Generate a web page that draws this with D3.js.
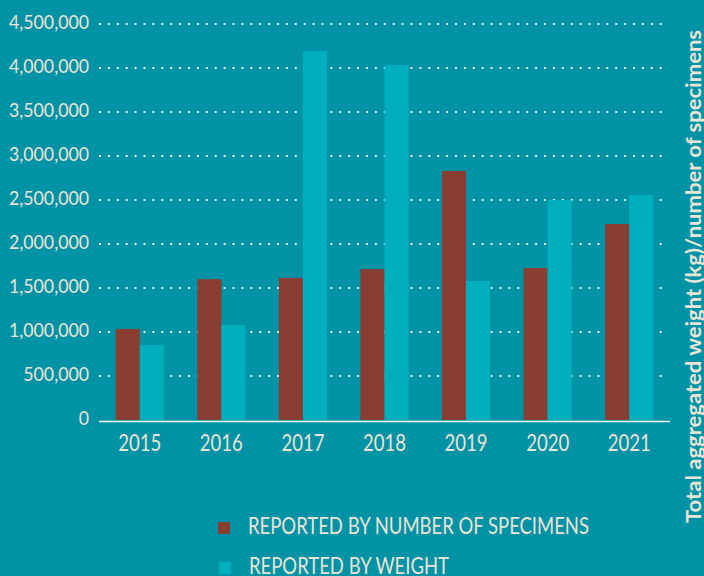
<!DOCTYPE html>
<html>
<head>
<meta charset="utf-8">
<script src="https://cdn.jsdelivr.net/npm/d3@7"></script>
<style>
  html, body { margin: 0; padding: 0; background: #0092a5; }
  svg { display: block; }
  text { font-family: "Lato", "Open Sans", sans-serif; fill: #ece4d6; }
</style>
</head>
<body>
<svg id="chart" width="704" height="576"></svg>
<script>
// Seized specimens by year, two reporting methods
const years = ["2015", "2016", "2017", "2018", "2019", "2020", "2021"];
const bySpecimens = [1035000, 1600000, 1615000, 1715000, 2830000, 1727000, 2227000];
const byWeight = [852000, 1080000, 4193000, 4034000, 1580000, 2500000, 2557000];
const yTicks = [0, 500000, 1000000, 1500000, 2000000, 2500000, 3000000, 3500000, 4000000, 4500000];
const seriesNames = ["REPORTED BY NUMBER OF SPECIMENS", "REPORTED BY WEIGHT"];
const seriesColors = ["#8a3d31", "#00afbe"];
const axisTitle = "Total aggregated weight (kg)/number of specimens";

const svg = d3.select("#chart");

// condensed look: squeeze a group of labels so that its widest one spans `width`
function condense(sel, width) {
  const nodes = sel.nodes();
  const widest = d3.max(nodes, n => n.getComputedTextLength());
  const f = width / widest;
  nodes.forEach(n => {
    n.setAttribute("textLength", (n.getComputedTextLength() * f).toFixed(2));
    n.setAttribute("lengthAdjust", "spacingAndGlyphs");
  });
}

const x0 = d3.scaleBand()
  .domain(years)
  .range([99, 670])
  .paddingInner(0.41)
  .paddingOuter(0.205);

const x1 = d3.scaleBand()
  .domain([0, 1])
  .range([0, x0.bandwidth()]);

const y = d3.scaleLinear()
  .domain([0, 4500000])
  .range([420, 24]);

const fmt = d3.format(",");

// dotted gridlines
svg.append("g")
  .selectAll("line")
  .data(yTicks.filter(d => d > 0))
  .join("line")
  .attr("x1", 99)
  .attr("x2", 665)
  .attr("y1", d => y(d))
  .attr("y2", d => y(d))
  .attr("stroke", "#e6f2f2")
  .attr("stroke-width", 2)
  .attr("stroke-dasharray", "2 6.9");

// y tick labels
const yLabels = svg.append("g")
  .selectAll("text")
  .data(yTicks)
  .join("text")
  .attr("x", 89)
  .attr("y", d => y(d) + 5)
  .attr("text-anchor", "end")
  .style("font-size", "19.5px")
  .text(d => fmt(d));
condense(yLabels, 80);

// bars
const rows = years.map((yr, i) => ({ year: yr, values: [bySpecimens[i], byWeight[i]] }));
const groups = svg.append("g")
  .selectAll("g")
  .data(rows)
  .join("g")
  .attr("transform", d => `translate(${x0(d.year)},0)`);

groups.selectAll("rect")
  .data(d => d.values.map((v, k) => ({ k, v })))
  .join("rect")
  .attr("x", d => x1(d.k))
  .attr("width", x1.bandwidth())
  .attr("y", d => y(d.v))
  .attr("height", d => y(0) - y(d.v))
  .attr("fill", d => seriesColors[d.k]);

// baseline
svg.append("line")
  .attr("x1", 99)
  .attr("x2", 670)
  .attr("y1", y(0) + 1.5)
  .attr("y2", y(0) + 1.5)
  .attr("stroke", "#f4fafa")
  .attr("stroke-width", 1.6);

// x labels
const xLabels = svg.append("g")
  .selectAll("text")
  .data(years)
  .join("text")
  .attr("x", d => x0(d) + x0.bandwidth() / 2)
  .attr("y", 451)
  .attr("text-anchor", "middle")
  .style("font-size", "22.5px")
  .text(d => d);
condense(xLabels, 43);

// right-hand axis title
const title = svg.append("text")
  .attr("transform", "translate(701,276.5) rotate(-90)")
  .attr("text-anchor", "middle")
  .style("font-size", "21px")
  .style("font-weight", "bold")
  .text(axisTitle);
condense(title, 493);

// legend
const legend = svg.append("g")
  .selectAll("g")
  .data(seriesNames)
  .join("g")
  .attr("transform", (d, i) => `translate(218,${522 + i * 40})`);

legend.append("rect")
  .attr("x", (d, i) => i)
  .attr("y", 0)
  .attr("width", 12)
  .attr("height", 12)
  .attr("fill", (d, i) => seriesColors[i]);

const legendText = legend.append("text")
  .attr("x", (d, i) => 30 + i)
  .attr("y", 11.5)
  .style("font-size", "22.5px")
  .text(d => d);
condense(legendText, 341);
</script>
</body>
</html>
